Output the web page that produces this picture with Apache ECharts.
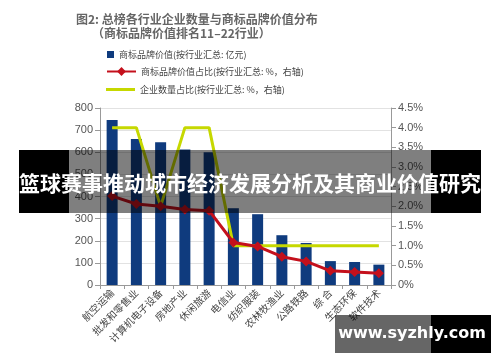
<!DOCTYPE html>
<html>
<head>
<meta charset="utf-8">
<script src="https://cdn.jsdelivr.net/npm/echarts@6/dist/echarts.min.js"></script>
<style>
html,body{margin:0;padding:0;background:#fff;}
#chart{width:500px;height:362px;}
</style>
</head>
<body>
<div id="chart"></div>
<script>
var categories = ['航空运输','批发和零售业','计算机电子设备','房地产业','休闲旅游','电信业','纺织服装','农林牧渔业','公路铁路','综 合','生态环保','软件技术'];
var brandValue = [746, 660, 645, 612, 600, 347, 320, 225, 190, 108, 104, 92];
var brandShare = [2.26, 2.06, 2.0, 1.92, 1.89, 1.08, 0.98, 0.72, 0.60, 0.36, 0.33, 0.30];
var companyShare = [4.0, 4.0, 2.0, 4.0, 4.0, 1.0, 1.0, 1.0, 1.0, 1.0, 1.0, 1.0];
var leftTicks = {min: 0, max: 800, interval: 100};
var rightTicks = {min: 0, max: 4.5, interval: 0.5};
var seriesNames = ['商标品牌价值(按行业汇总: 亿元)','商标品牌价值占比(按行业汇总: %，右轴)','企业数量占比(按行业汇总: %，右轴)'];
var titleLines = ['图2: 总榜各行业企业数量与商标品牌价值分布','（商标品牌价值排名11–22行业）'];
var bannerText = '篮球赛事推动城市经济发展分析及其商业价值研究';
var siteText = 'www.syzhly.com';

var chart = echarts.init(document.getElementById('chart'), null, {renderer: 'canvas'});
var font = '"Noto Sans CJK SC", "Liberation Sans", sans-serif';
var legendText = {fontSize: 9, color: '#444', fontFamily: font};
var option = {
  animation: false,
  backgroundColor: '#fff',
  textStyle: {fontFamily: font},
  grid: {left: 100, right: 109, top: 108, bottom: 77, containLabel: false},
  legend: [
    {data: [{name: seriesNames[0], icon: 'rect'}], left: 102, top: 45, itemWidth: 7, itemHeight: 7, itemGap: 0, textStyle: legendText, selectedMode: false},
    {data: [seriesNames[1]], left: 101, top: 62, itemWidth: 29, itemHeight: 11, textStyle: legendText, selectedMode: false},
    {data: [{name: seriesNames[2], icon: 'rect'}], left: 101, top: 80, itemWidth: 29, itemHeight: 3, textStyle: legendText, selectedMode: false}
  ],
  xAxis: {
    type: 'category',
    data: categories,
    boundaryGap: true,
    axisLine: {show: true, lineStyle: {color: '#999'}},
    axisTick: {show: true, length: 4, lineStyle: {color: '#999'}},
    axisLabel: {interval: 0, rotate: 45, fontSize: 10, color: '#444', margin: 6, fontFamily: font}
  },
  yAxis: [
    {
      type: 'value', min: leftTicks.min, max: leftTicks.max, interval: leftTicks.interval,
      axisLine: {show: true, lineStyle: {color: '#999'}},
      axisTick: {show: true, length: 5, lineStyle: {color: '#999'}},
      axisLabel: {fontSize: 11, color: '#555', margin: 7, fontFamily: '"Liberation Sans", sans-serif'},
      splitLine: {show: true, lineStyle: {color: '#e2e2e2'}}
    },
    {
      type: 'value', min: rightTicks.min, max: rightTicks.max, interval: rightTicks.interval,
      position: 'right',
      axisLine: {show: true, lineStyle: {color: '#999'}},
      axisTick: {show: true, length: 5, lineStyle: {color: '#999'}},
      axisLabel: {fontSize: 11, color: '#555', margin: 7, fontFamily: '"Liberation Sans", sans-serif',
        formatter: function (v) { return v === 0 ? '0%' : v.toFixed(1) + '%'; }},
      splitLine: {show: false}
    }
  ],
  series: [
    {name: seriesNames[0], type: 'bar', data: brandValue, barWidth: 11, itemStyle: {color: '#0f3b7e'}, z: 2},
    {name: seriesNames[1], type: 'line', yAxisIndex: 1, data: brandShare, symbol: 'diamond', symbolSize: 10,
      lineStyle: {width: 3, color: '#c4101c'}, itemStyle: {color: '#c4101c'}, z: 4},
    {name: seriesNames[2], type: 'line', yAxisIndex: 1, data: companyShare, symbol: 'none',
      lineStyle: {width: 3, color: '#c6d800'}, itemStyle: {color: '#c6d800'}, z: 3}
  ],
  graphic: [
    {type: 'text', left: 76, top: 13, z: 10, style: {text: titleLines[0], fontSize: 12, fontWeight: 'bold', fontFamily: font, fill: '#666'}},
    {type: 'text', left: 92, top: 27, z: 10, style: {text: titleLines[1], fontSize: 12, fontWeight: 'bold', fontFamily: font, fill: '#666'}},
    {type: 'rect', z: 100, shape: {x: 19, y: 150, width: 50, height: 63}, style: {fill: '#000'}},
    {type: 'rect', z: 100, shape: {x: 69, y: 150, width: 362, height: 63}, style: {fill: 'rgba(0,0,0,0.5)'}},
    {type: 'rect', z: 100, shape: {x: 431, y: 150, width: 50, height: 63}, style: {fill: '#000'}},
    {type: 'text', z: 101, x: 250, y: 183, style: {text: bannerText, fontSize: 21, fontWeight: 'bold', fontFamily: font, fill: '#fff', align: 'center', verticalAlign: 'middle'}},
    {type: 'rect', z: 100, shape: {x: 335, y: 315, width: 96, height: 38}, style: {fill: 'rgba(0,0,0,0.6)'}},
    {type: 'rect', z: 100, shape: {x: 431, y: 315, width: 60, height: 38}, style: {fill: '#000'}},
    {type: 'text', z: 101, x: 412, y: 334, style: {text: siteText, fontSize: 16, fontWeight: 'bold', fontFamily: '"DejaVu Sans", sans-serif', fill: '#fff', align: 'center', verticalAlign: 'middle'}}
  ]
};
chart.setOption(option);
</script>
</body>
</html>
